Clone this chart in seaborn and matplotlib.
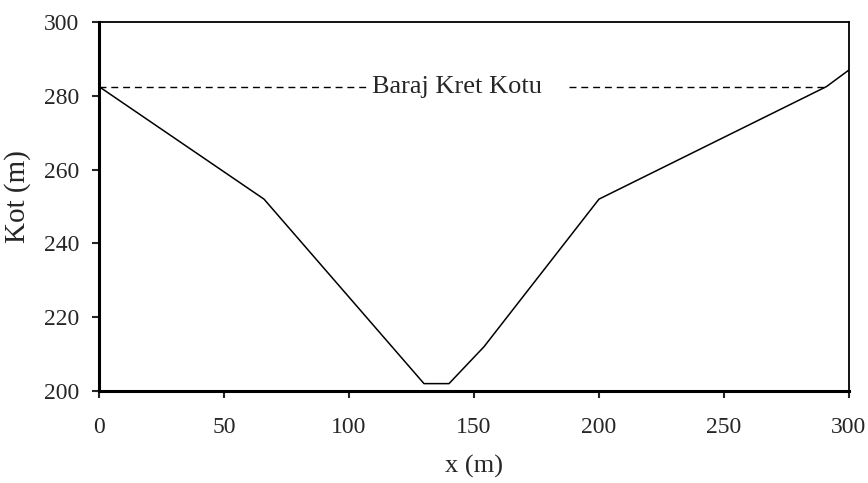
import matplotlib
matplotlib.use("Agg")
import matplotlib.pyplot as plt
import seaborn as sns
import pandas as pd

# Valley cross-section (ground profile)
profile_x = [0, 66, 130, 140, 154, 200, 291, 300]
profile_kot = [282.5, 252, 202, 202, 212, 252, 282.5, 287]

# Dam crest elevation, drawn as a dashed line broken by its label
crest_kot = 282.5
crest_left_x = [0, 108]
crest_right_x = [188, 291]
crest_label = "Baraj Kret Kotu"
crest_label_x = 109

x_ticks = [0, 50, 100, 150, 200, 250, 300]
y_ticks = [200, 220, 240, 260, 280, 300]

sns.set_style("white")
plt.rcParams["font.family"] = ["Liberation Serif", "DejaVu Serif"]

fig = plt.figure(figsize=(8.68, 4.83), dpi=100)
ax = fig.add_axes([99 / 868, 1 - 391 / 483, (849 - 99) / 868, (391 - 22) / 483])

df = pd.DataFrame({"x": profile_x, "kot": profile_kot})
sns.lineplot(data=df, x="x", y="kot", sort=False, color="black", linewidth=1.1, ax=ax)

for seg in (crest_left_x, crest_right_x):
    crest_df = pd.DataFrame({"x": seg, "kot": [crest_kot] * len(seg)})
    sns.lineplot(data=crest_df, x="x", y="kot", color="black", linewidth=1.0,
                 dashes=False, ax=ax).lines[-1].set_dashes((5, 3.5))

ax.text(crest_label_x, crest_kot, crest_label, fontsize=19, va="center", ha="left")

ax.set_xlim(0, 300)
ax.set_ylim(200, 300)
ax.set_xticks(x_ticks)
ax.set_yticks(y_ticks)
ax.tick_params(axis="x", direction="out", length=5, width=1.5, pad=14, labelsize=17)
ax.tick_params(axis="y", direction="out", length=5, width=1.5, pad=9, labelsize=17)
ax.tick_params(bottom=True, left=True)

for side in ("left", "bottom"):
    ax.spines[side].set_linewidth(2.2)
for side in ("top", "right"):
    ax.spines[side].set_linewidth(1.3)
for sp in ax.spines.values():
    sp.set_color("black")
    sp.set_visible(True)

ax.set_xlabel("x (m)", fontsize=19, labelpad=12)
ax.set_ylabel("Kot (m)", fontsize=21)
ax.yaxis.set_label_coords(-0.09, 0.528)

fig.savefig("out.png", dpi=100, facecolor="white")
